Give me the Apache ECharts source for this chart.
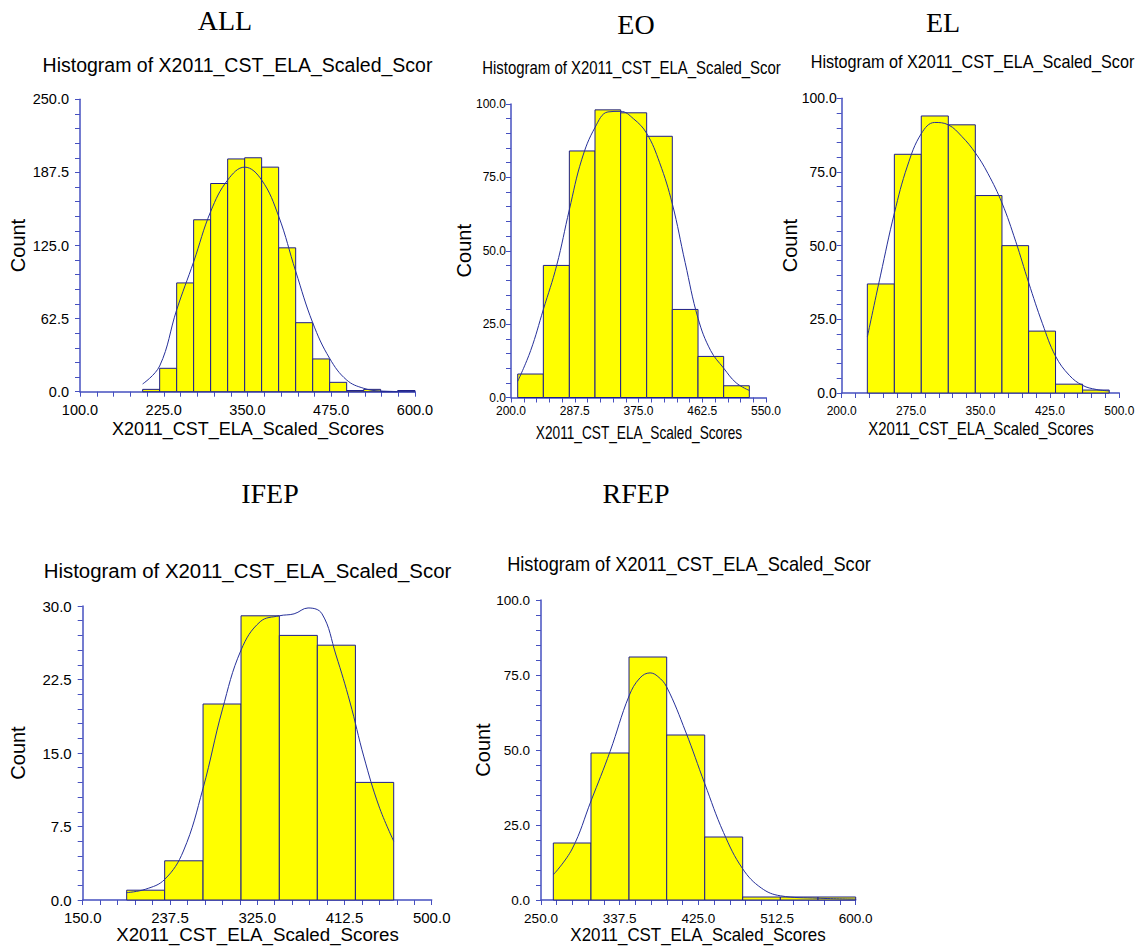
<!DOCTYPE html>
<html>
<head>
<meta charset="utf-8">
<script src="https://cdn.jsdelivr.net/npm/echarts@6/dist/echarts.min.js"></script>
<style>html,body{margin:0;padding:0;background:#fff;}#c{width:1139px;height:946px;}</style>
</head>
<body>
<div id="c"></div>
<script>
// ---------- DATA ----------
// ALL
const allEdges  = [193.5,218.9,244.3,269.6,295.0,320.4,345.8,371.1,396.5,421.9,447.3,472.6,498.0,523.4,548.7,574.1,600.0];
const allCounts = [2,20,93,147,178,199,200,192,123,59,28,8,1,2,0,1];
const allCurveX = [193.5,218.9,244.3,269.6,295.0,320.4,345.8,371.1,396.5,421.9,447.3,472.6,498.0,523.4,548.7,600.0];
const allCurveY = [6.6,22,70,111,154,181,192,181,150,103,59,28.5,10,2.9,0.6,0];
const allXAxis  = [100, 600, 125];
const allYAxis  = [0, 250, 62.5];
// EO
const eoEdges  = [209.2,244.4,280.1,315.3,350.5,386.2,421.4,456.7,491.9,527.1];
const eoCounts = [8,45,84,98,97,89,30,14,4];
const eoCurveX = [209.2,227,244.4,262.7,280.1,297,315.3,333,350.5,368,386.2,404,421.4,439,456.7,474,491.9,509,527.1];
const eoCurveY = [5.5,16,30,45,64,81,92,97.3,97.5,95,90,80,66,46,27,16,10,5,2.4];
const eoXAxis  = [200, 550, 87.5];
const eoYAxis  = [0, 100, 25];
// EL
const elEdges  = [227.7,256.9,286.0,315.2,344.4,373.2,402.0,431.1,460.3,489.1];
const elCounts = [37,81,94,91,67,50,21,3,1];
const elCurveX = [227.7,242,256.9,271,286,300.5,315.2,330,344.4,358,373.2,388,402,417,431.1,446,460.3,475,489.1];
const elCurveY = [19,40,61,77,88,91.8,91,87,81.5,74.5,64.5,51.5,37.5,23.5,12.5,6,2.6,1.2,0.7];
const elXAxis  = [200, 500, 75];
const elYAxis  = [0, 100, 25];
// IFEP
const ifEdges  = [194.1,232.2,270.7,308.8,347.2,385.3,423.5,461.9];
const ifCounts = [1,4,20,29,27,26,12];
const ifCurveX = [194.1,213,232.2,251,270.7,290,308.8,328,347.2,362,376,390,404,418,432,447,461.9];
const ifCurveY = [0.75,1.1,2.1,5,11.4,19.4,25.5,28.4,29.0,29.2,29.8,29.2,25,20.2,14.6,9.6,6];
const ifXAxis  = [150, 500, 87.5];
const ifYAxis  = [0, 30, 7.5];
// RFEP
const rfEdges  = [263.7,305.6,347.9,389.8,432.1,474.3,516.2,558.1,600.0];
const rfCounts = [19,49,81,55,21,1,1,1];
const rfCurveX = [263.7,284.6,305.6,326.8,347.9,360,371.3,380,389.8,411,432.1,453,474.3,495,516.2,558.1,600];
const rfCurveY = [8.4,17,33,49.5,68,74,75.7,74.5,71,56,38.8,22.5,10.4,4,1.4,0.6,0.3];
const rfXAxis  = [250, 600, 87.5];
const rfYAxis  = [0, 100, 25];

const panelNames = ['ALL','EO','EL','IFEP','RFEP'];
const subTitle = 'Histogram of X2011_CST_ELA_Scaled_Scor';
const xName = 'X2011_CST_ELA_Scaled_Scores';
const yName = 'Count';

// ---------- LAYOUT / STYLE ----------
const SANS = '"Liberation Sans", Arial, sans-serif';
const SERIF = '"Liberation Serif", "Times New Roman", serif';
const AXIS_COLOR = '#4650c0';
const BAR_BORDER = '#1e1e8c';
const CURVE_COLOR = '#26309a';

const panels = [
  {edges: allEdges, counts: allCounts, cx: allCurveX, cy: allCurveY, xa: allXAxis, ya: allYAxis,
   grid: {left: 80, top: 99.3, width: 335, height: 292.4},
   xFont: 14.5, yFont: 14.5, xMargin: 11, yMargin: 11,
   title: [225, 20], sub: [237.5, 65, 20, 0.975], xn: [248, 429, 18, 1.0], yn: [18, 245.5]},
  {edges: eoEdges, counts: eoCounts, cx: eoCurveX, cy: eoCurveY, xa: eoXAxis, ya: eoYAxis,
   grid: {left: 511, top: 104, width: 255, height: 293.5},
   xFont: 12, yFont: 12, xMargin: 7, yMargin: 5,
   title: [636, 24], sub: [631.5, 68, 18, 0.83], xn: [639, 433, 18, 0.76], yn: [464, 250.7]},
  {edges: elEdges, counts: elCounts, cx: elCurveX, cy: elCurveY, xa: elXAxis, ya: elYAxis,
   grid: {left: 841.7, top: 98.3, width: 277.6, height: 294.7},
   xFont: 12, yFont: 14, xMargin: 12, yMargin: 5,
   title: [943, 22], sub: [972.5, 62, 18, 0.9], xn: [981, 429, 18, 0.83], yn: [790, 245.6]},
  {edges: ifEdges, counts: ifCounts, cx: ifCurveX, cy: ifCurveY, xa: ifXAxis, ya: ifYAxis,
   grid: {left: 82.7, top: 606, width: 349, height: 294},
   xFont: 15, yFont: 15, xMargin: 10, yMargin: 11,
   title: [270, 493], sub: [247.5, 571, 20, 1.02], xn: [257.5, 935, 18, 1.04], yn: [18, 753]},
  {edges: rfEdges, counts: rfCounts, cx: rfCurveX, cy: rfCurveY, xa: rfXAxis, ya: rfYAxis,
   grid: {left: 541, top: 600, width: 314.7, height: 300},
   xFont: 13.5, yFont: 13.5, xMargin: 11, yMargin: 11,
   title: [636, 493], sub: [689, 564, 20, 0.91], xn: [698, 935, 18, 0.94], yn: [483, 750]}
];

const grids = [], xAxes = [], yAxes = [], series = [], graphics = [];
const fmt = v => v.toFixed(1);

panels.forEach((p, i) => {
  grids.push(Object.assign({containLabel: false}, p.grid));
  const axisCommon = {
    axisLine: {show: true, onZero: false, lineStyle: {color: AXIS_COLOR, width: 1.5}},
    axisTick: {show: true, length: 5, lineStyle: {color: AXIS_COLOR, width: 1}},
    minorTick: {show: true, splitNumber: 5, length: 5, lineStyle: {color: AXIS_COLOR, width: 1}},
    splitLine: {show: false},
    minorSplitLine: {show: false}
  };
  xAxes.push(Object.assign({
    type: 'value', gridIndex: i, min: p.xa[0], max: p.xa[1], interval: p.xa[2],
    axisLabel: {formatter: fmt, color: '#000', fontFamily: SANS, fontSize: p.xFont, margin: p.xMargin,
                showMinLabel: true, showMaxLabel: true}
  }, axisCommon));
  yAxes.push(Object.assign({
    type: 'value', gridIndex: i, min: p.ya[0], max: p.ya[1], interval: p.ya[2],
    axisLabel: {formatter: fmt, color: '#000', fontFamily: SANS, fontSize: p.yFont, margin: p.yMargin,
                showMinLabel: true, showMaxLabel: true}
  }, axisCommon));

  const binData = p.counts.map((c, k) => [p.edges[k], p.edges[k + 1], c]);
  series.push({
    type: 'custom', xAxisIndex: i, yAxisIndex: i, clip: false,
    encode: {x: [0, 1], y: 2},
    data: binData,
    renderItem: function (params, api) {
      const a = api.coord([api.value(0), api.value(2)]);
      const b = api.coord([api.value(1), 0]);
      return {
        type: 'rect',
        shape: {x: a[0], y: a[1], width: b[0] - a[0], height: b[1] - a[1]},
        style: {fill: '#ffff00', stroke: BAR_BORDER, lineWidth: 1}
      };
    },
    z: 2
  });
  series.push({
    type: 'line', xAxisIndex: i, yAxisIndex: i,
    data: p.cx.map((x, k) => [x, p.cy[k]]),
    smooth: 0.4, showSymbol: false, symbol: 'none',
    lineStyle: {color: CURVE_COLOR, width: 1},
    z: 3, silent: true
  });

  graphics.push({type: 'text', x: p.title[0], y: p.title[1], z: 10,
    style: {text: panelNames[i], font: '28px ' + SERIF, fill: '#000', align: 'center', verticalAlign: 'middle'}});
  graphics.push({type: 'text', x: p.sub[0], y: p.sub[1], scaleX: p.sub[3], z: 10,
    style: {text: subTitle, font: p.sub[2] + 'px ' + SANS, fill: '#000', align: 'center', verticalAlign: 'middle'}});
  graphics.push({type: 'text', x: p.xn[0], y: p.xn[1], scaleX: p.xn[3], z: 10,
    style: {text: xName, font: p.xn[2] + 'px ' + SANS, fill: '#000', align: 'center', verticalAlign: 'middle'}});
  graphics.push({type: 'text', x: p.yn[0], y: p.yn[1], rotation: Math.PI / 2, z: 10,
    style: {text: yName, font: '20px ' + SANS, fill: '#000', align: 'center', verticalAlign: 'middle'}});
});

const chart = echarts.init(document.getElementById('c'), null, {renderer: 'svg', width: 1139, height: 946});
chart.setOption({
  animation: false,
  backgroundColor: '#ffffff',
  grid: grids,
  xAxis: xAxes,
  yAxis: yAxes,
  series: series,
  graphic: graphics
});
</script>
</body>
</html>
